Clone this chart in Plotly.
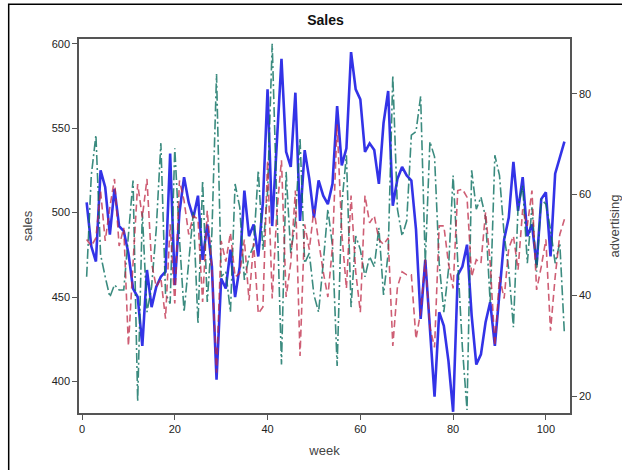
import plotly.graph_objects as go

week = list(range(1, 105))

sales = [506, 480, 471, 525, 515, 487, 514, 492, 489, 476, 455, 450, 421, 466, 444, 456, 462, 465, 535, 457,
         500, 521, 506, 497, 510, 472, 493, 468, 401, 461, 455, 478, 450, 468, 513, 486, 493, 474, 506, 573,
         492, 540, 591, 536, 527, 571, 495, 537, 520, 497, 519, 510, 505, 517, 563, 528, 538, 595, 573, 567,
         536, 541, 537, 517, 553, 572, 504, 520, 527, 522, 519, 490, 437, 472, 430, 391, 441, 433, 412, 382,
         463, 468, 481, 439, 410, 416, 435, 447, 421, 455, 484, 497, 530, 501, 521, 486, 493, 469, 508, 512,
         474, 523, 532, 542]

advertising = [51.1, 49.8, 51.4, 60.8, 50.8, 57.5, 63.1, 49.8, 53.4, 30.0, 46.4, 62.1, 55.5, 63.1, 46.4, 41.7,
               43.4, 35.4, 54.1, 38.4, 62.8, 58.8, 52.1, 55.8, 55.1, 38.7, 56.8, 45.4, 24.7, 50.8, 46.7, 52.4,
               43.7, 44.4, 51.1, 39.0, 50.4, 36.4, 37.7, 66.8, 39.4, 56.5, 66.8, 39.7, 46.4, 60.8, 28.0, 54.1,
               49.1, 57.1, 50.8, 44.7, 39.7, 49.8, 73.9, 52.4, 41.4, 59.8, 44.7, 36.7, 59.8, 54.4, 55.8, 51.1,
               50.1, 51.4, 30.0, 41.7, 44.7, 44.1, 44.1, 31.4, 36.7, 47.1, 33.7, 29.7, 53.8, 53.8, 46.4, 41.4,
               60.8, 61.1, 59.5, 43.7, 47.1, 46.4, 56.5, 46.4, 30.0, 43.7, 39.4, 49.4, 51.8, 45.1, 57.1, 53.8,
               60.8, 41.1, 45.7, 51.1, 33.0, 43.7, 52.1, 55.1]

advertising2 = [43.7, 63.8, 71.8, 48.1, 43.7, 39.7, 42.1, 41.1, 41.1, 52.1, 62.8, 19.0, 56.5, 36.7, 41.7, 53.1,
                70.2, 40.4, 38.4, 69.2, 51.4, 36.7, 47.1, 56.5, 34.4, 62.8, 38.7, 52.4, 83.9, 43.7, 44.7, 36.7,
                62.1, 57.5, 43.1, 47.7, 49.8, 64.8, 49.1, 60.5, 89.9, 58.1, 26.3, 64.5, 48.4, 54.8, 71.2, 46.4,
                48.4, 40.1, 36.7, 46.4, 57.1, 49.8, 26.0, 58.1, 67.8, 37.7, 51.8, 49.1, 43.7, 47.7, 45.7, 53.4,
                40.1, 48.4, 83.6, 57.1, 51.8, 54.8, 71.8, 72.5, 79.5, 46.4, 70.5, 67.5, 46.4, 36.7, 45.1, 63.8,
                46.4, 29.7, 17.3, 64.8, 57.1, 59.5, 55.5, 38.4, 67.8, 63.8, 52.1, 45.1, 33.7, 57.5, 61.8, 46.4,
                57.5, 44.7, 59.1, 58.1, 53.1, 46.4, 50.4, 32.3]

x_ticks = [0, 20, 40, 60, 80, 100]
y_ticks = [400, 450, 500, 550, 600]
y2_ticks = [20, 40, 60, 80]

fig = go.Figure()
fig.add_trace(go.Scatter(x=week, y=advertising2, yaxis="y2", mode="lines",
                         line=dict(color="rgba(10,110,95,0.8)", width=1.6, dash="10px,3px,2px,3px"),
                         name="advertising2"))
fig.add_trace(go.Scatter(x=week, y=advertising, yaxis="y2", mode="lines",
                         line=dict(color="rgba(190,40,70,0.75)", width=1.6, dash="7px,4px"),
                         name="advertising"))
fig.add_trace(go.Scatter(x=week, y=sales, mode="lines",
                         line=dict(color="rgba(40,40,230,0.95)", width=2.6),
                         name="sales"))

axis_common = dict(showgrid=False, zeroline=False, showline=True, linecolor="#555555", linewidth=1.5,
                   ticks="outside", ticklen=5, tickcolor="#555555", tickwidth=1, automargin=False,
                   tickfont=dict(family="Liberation Sans, Arial", size=11, color="#222222"))

fig.update_layout(
    width=622, height=470,
    margin=dict(l=79, r=52, t=39, b=57),
    paper_bgcolor="white", plot_bgcolor="white",
    showlegend=False,
    title=dict(text="<b>Sales</b>", x=0.5232, xanchor="center", y=0.957, yanchor="middle", yref="container",
               font=dict(family="Liberation Sans, Arial", size=14, color="#111111")),
    xaxis=dict(range=[-0.65, 105.2], tickvals=x_ticks, mirror=True,
               title=dict(text="week", standoff=12, font=dict(family="Liberation Sans, Arial", size=13, color="#444444")),
               **axis_common),
    yaxis=dict(range=[381.3, 602.8], tickvals=y_ticks,
               title=dict(text="sales", standoff=16, font=dict(family="Liberation Sans, Arial", size=13, color="#444444")),
               **axis_common),
    yaxis2=dict(range=[16.7, 90.85], tickvals=y2_ticks, overlaying="y", side="right",
                title=dict(text="advertising", standoff=20, font=dict(family="Liberation Sans, Arial", size=13, color="#444444")),
                **axis_common),
    shapes=[dict(type="path", xref="paper", yref="paper",
                 path="M -0.1432,-0.3 L -0.1432,1.0928 L 1.3,1.0928",
                 line=dict(color="black", width=1.5))],
)

fig.write_html("out.html")
